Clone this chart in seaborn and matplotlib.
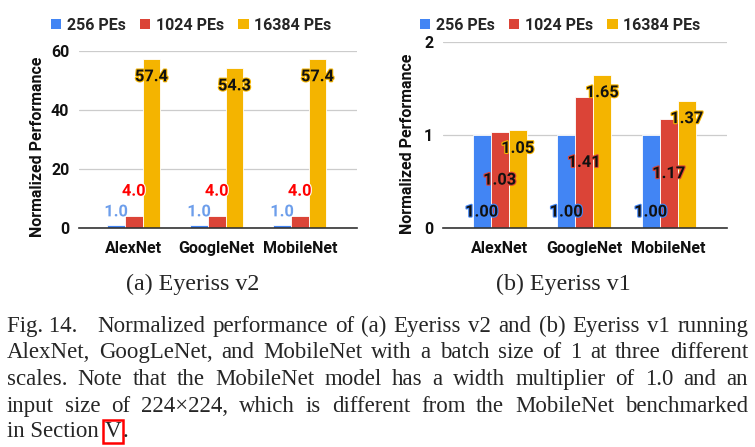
import matplotlib
matplotlib.use("Agg")
import matplotlib.pyplot as plt
import matplotlib.patheffects as pe
from matplotlib.patches import Patch
import pandas as pd
import seaborn as sns

networks = ["AlexNet", "GoogleNet", "MobileNet"]
pe_scales = ["256 PEs", "1024 PEs", "16384 PEs"]
v2_256 = [1.0, 1.0, 1.0]
v2_1024 = [4.0, 4.0, 4.0]
v2_16384 = [57.4, 54.3, 57.4]
v1_256 = [1.00, 1.00, 1.00]
v1_1024 = [1.03, 1.41, 1.17]
v1_16384 = [1.05, 1.65, 1.37]
v2_ticks = [0, 20, 40, 60]
v1_ticks = [0, 1, 2]
sub_captions = ["(a) Eyeriss v2", "(b) Eyeriss v1"]
caption_head = "Fig. 14."
caption_lines = [
    "Normalized performance of (a) Eyeriss v2 and (b) Eyeriss v1 running",
    "AlexNet, GoogLeNet, and MobileNet with a batch size of 1 at three different",
    "scales. Note that the MobileNet model has a width multiplier of 1.0 and an",
    "input size of 224\u00d7224, which is different from the MobileNet benchmarked",
]
caption_last = ["in Section", "V", "."]

W, H = 755, 447
blue, red, yellow = "#4285F4", "#DB4437", "#F4B400"
SERIF = ["Liberation Serif", "DejaVu Serif"]
SUB = 17.3
CAP = 16.5

sns.set_theme(style="white", rc={"font.weight": "bold", "axes.labelweight": "bold"})
plt.rcParams["font.family"] = ["Roboto", "DejaVu Sans"]


def fx(x):
    return x / W


def fy(y):
    return 1 - y / H


def long_table(a, b, c):
    return pd.DataFrame({
        "network": networks * 3,
        "scale": [s for s in pe_scales for _ in networks],
        "value": list(a) + list(b) + list(c),
    })


def draw_panel(ax, df, ticks, ylim, xlim, fmt, label_rules):
    sns.barplot(data=df, x="network", y="value", hue="scale", hue_order=pe_scales,
                palette=[blue, red, yellow], saturation=1, width=0.64,
                edgecolor="white", linewidth=0.6, legend=False, ax=ax)
    ax.set_ylim(*ylim)
    ax.set_xlim(*xlim)
    ax.set_yticks(ticks)
    ax.set_xlabel("")
    ax.set_ylabel("Normalized Performance", fontsize=11.5, fontweight="bold", color="#111")
    ax.tick_params(axis="y", length=0, pad=7, labelsize=11.5, labelcolor="#111")
    ax.tick_params(axis="x", length=0, pad=9, labelsize=11.5, labelcolor="#111")
    ax.spines[["top", "right", "left"]].set_visible(False)
    ax.spines["bottom"].set_color("#333333")
    ax.spines["bottom"].set_linewidth(1.2)
    ax.yaxis.grid(True, color="#cccccc", lw=0.9)
    ax.set_axisbelow(True)
    for container, (anchor, offset, txt_color, stroke) in zip(ax.containers, label_rules):
        for bar in container:
            h = bar.get_height()
            x = bar.get_x() + bar.get_width() / 2
            y = {"top": h, "base": 0, "mid": h / 2}[anchor]
            ax.annotate(fmt.format(h), xy=(x, y), xytext=(0, offset),
                        textcoords="offset points", ha="center", va="center",
                        fontsize=11.8, fontweight="bold", color=txt_color,
                        path_effects=[pe.withStroke(linewidth=1.6, foreground=stroke)])


def legend(fig, cx, cy):
    handles = [Patch(facecolor=c, edgecolor="none") for c in (blue, red, yellow)]
    fig.legend(handles, pe_scales, loc="center", bbox_to_anchor=(fx(cx), fy(cy)),
               ncol=3, frameon=False, handlelength=0.65, handleheight=0.65,
               handletextpad=0.35, columnspacing=0.9,
               prop={"weight": "bold", "size": 11.5})


fig = plt.figure(figsize=(W / 100, H / 100), dpi=100)
ax_v2 = fig.add_axes([fx(79), fy(228), 278 / W, 177 / H])
ax_v1 = fig.add_axes([fx(443), fy(228), 284 / W, 186 / H])

draw_panel(ax_v2, long_table(v2_256, v2_1024, v2_16384), v2_ticks, (0, 60), (-0.66, 2.69),
           "{:.1f}", [("top", 9.5, "#6d9eeb", "white"),
                      ("top", 18, "#ff0000", "white"),
                      ("top", -13, "#111111", yellow)])
draw_panel(ax_v1, long_table(v1_256, v1_1024, v1_16384), v1_ticks, (0, 2), (-0.67, 2.69),
           "{:.2f}", [("base", 11.5, "#111111", blue),
                      ("mid", 0, "#111111", red),
                      ("top", -13, "#111111", yellow)])
ax_v2.yaxis.set_label_coords(-0.122, 0.458)
ax_v1.yaxis.set_label_coords(-0.099, 0.452)
legend(fig, 191, 25)
legend(fig, 560, 25)

# captions below the panels
for text, cx in zip(sub_captions, [193, 563]):
    fig.text(fx(cx), fy(290), text, ha="center", va="baseline", fontsize=SUB,
             family=SERIF, fontweight="normal")

r = fig.canvas.get_renderer()
baselines = [332, 358, 385, 412, 437]
left, right = 7, 748


def justify(words, x0, x1, y):
    texts = [fig.text(0, fy(y), w, fontsize=CAP, family=SERIF, fontweight="normal",
                      va="baseline") for w in words]
    widths = [t.get_window_extent(r).width for t in texts]
    gap = (x1 - x0 - sum(widths)) / (len(words) - 1)
    x = x0
    for t, w in zip(texts, widths):
        t.set_x(fx(x))
        x += w + gap


fig.text(fx(left), fy(baselines[0]), caption_head, fontsize=CAP, family=SERIF,
         fontweight="normal", va="baseline")
for i, line in enumerate(caption_lines):
    justify(line.split(" "), 97 if i == 0 else left, right, baselines[i])

x = left
for j, word in enumerate(caption_last):
    kw = {}
    if word == "V":
        kw["bbox"] = dict(boxstyle="square,pad=0.06", fc="none", ec="#ff0000", lw=1.8)
    t = fig.text(fx(x), fy(baselines[4]), word, fontsize=CAP, family=SERIF,
                 fontweight="normal", va="baseline", **kw)
    x += t.get_window_extent(r).width + (6 if j == 0 else 1)

fig.savefig("out.png", dpi=100)
